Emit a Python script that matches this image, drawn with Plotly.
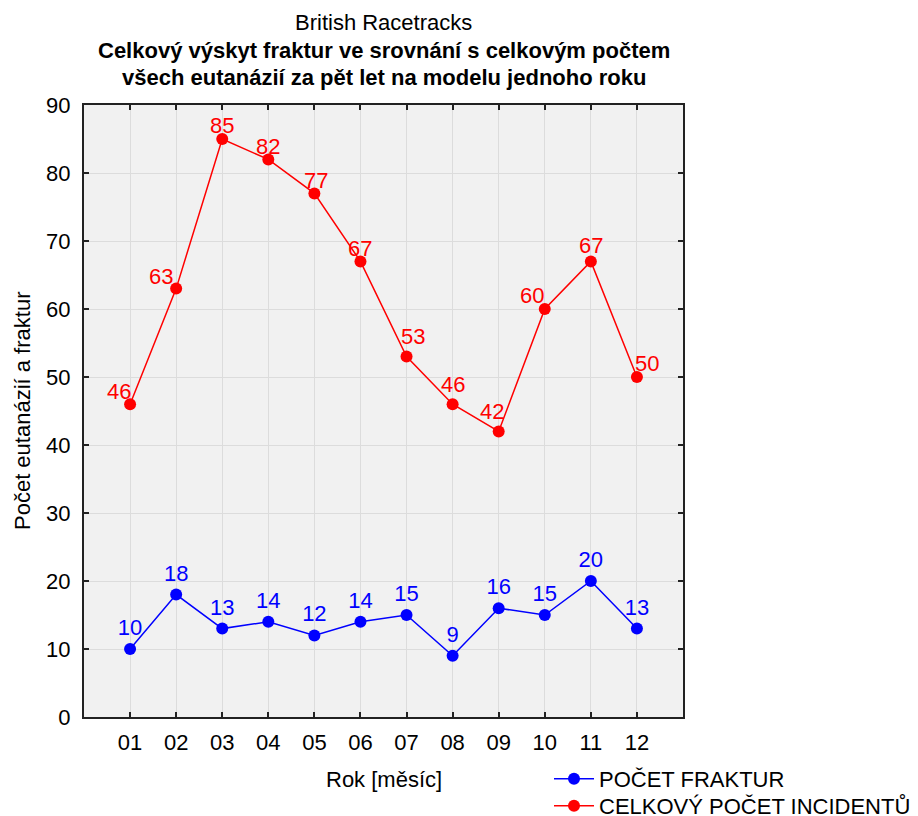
import plotly.graph_objects as go

months = ["01", "02", "03", "04", "05", "06", "07", "08", "09", "10", "11", "12"]
fraktury = [10, 18, 13, 14, 12, 14, 15, 9, 16, 15, 20, 13]
incidenty = [46, 63, 85, 82, 77, 67, 53, 46, 42, 60, 67, 50]
# label offsets (px) for the red series labels
red_dx = [-11, -15, 0, 0, 2, 0, 6, 0, -7, -13, 0, 10]
red_dy = [13, 12, 14, 13, 13, 13, 20, 20, 20, 14, 16, 14]

x_idx = list(range(1, 13))
FONT = "Liberation Sans, Arial, sans-serif"
FS = 22

fig = go.Figure()
fig.add_trace(go.Scatter(
    x=x_idx, y=fraktury, mode="lines+markers+text", name="POČET FRAKTUR",
    line=dict(color="#0000ff", width=1.5), marker=dict(color="#0000ff", size=12),
    text=[str(v) for v in fraktury], textposition="top center",
    textfont=dict(color="#0000ff", size=FS, family=FONT),
    legend="legend", cliponaxis=False))
fig.add_trace(go.Scatter(
    x=x_idx, y=incidenty, mode="lines+markers", name="CELKOVÝ POČET INCIDENTŮ",
    line=dict(color="#ff0000", width=1.5), marker=dict(color="#ff0000", size=12),
    legend="legend2", cliponaxis=False))

for xi, v, dx, dy in zip(x_idx, incidenty, red_dx, red_dy):
    fig.add_annotation(x=xi, y=v, xref="x", yref="y", text=str(v), showarrow=False,
                       xshift=dx, yshift=dy, xanchor="center", yanchor="middle",
                       font=dict(color="#ff0000", size=FS, family=FONT))

leg_common = dict(xref="container", yref="container", xanchor="left", yanchor="top",
                  font=dict(size=FS, color="black"), bgcolor="rgba(0,0,0,0)", itemwidth=40)

fig.update_layout(
    width=918, height=816,
    margin=dict(l=84, r=235, t=105, b=99, autoexpand=False),
    paper_bgcolor="white", plot_bgcolor="#f1f1f1",
    font=dict(family=FONT, size=FS, color="black"),
    showlegend=True,
    legend=dict(x=549 / 918, y=1 - 758 / 816, **leg_common),
    legend2=dict(x=549 / 918, y=1 - 785 / 816, **leg_common),
    xaxis=dict(range=[0, 13], tickmode="array", tickvals=x_idx, ticktext=months,
               showgrid=True, gridcolor="#dcdcdc", gridwidth=1, zeroline=False,
               showline=True, linecolor="#222222", linewidth=2, mirror="ticks",
               ticks="inside", ticklen=5, tickwidth=1.5, tickcolor="#222222",
               tickfont=dict(size=FS), ticklabelstandoff=5, automargin=False),
    yaxis=dict(range=[0, 90], tickmode="array", tickvals=list(range(0, 91, 10)),
               showgrid=True, gridcolor="#dcdcdc", gridwidth=1, zeroline=False,
               showline=True, linecolor="#222222", linewidth=2, mirror="ticks",
               ticks="inside", ticklen=5, tickwidth=1.5, tickcolor="#222222",
               tickfont=dict(size=FS), ticklabelstandoff=7, automargin=False),
)

fig.add_annotation(text="British Racetracks", xref="paper", yref="paper", x=0.5, y=1,
                   yshift=83, showarrow=False, font=dict(size=FS, color="black"), yanchor="middle")
fig.add_annotation(text="<b>Celkový výskyt fraktur ve srovnání s celkovým počtem</b>",
                   xref="paper", yref="paper", x=0.5, y=1, yshift=55, showarrow=False,
                   font=dict(size=FS, color="black"), yanchor="middle")
fig.add_annotation(text="<b>všech eutanázií za pět let na modelu jednoho roku</b>",
                   xref="paper", yref="paper", x=0.5, y=1, yshift=28, showarrow=False,
                   font=dict(size=FS, color="black"), yanchor="middle")
fig.add_annotation(text="Počet eutanázií a fraktur", xref="paper", yref="paper", x=0, y=0.5,
                   xshift=-62, textangle=-90, showarrow=False,
                   font=dict(size=FS, color="black"), xanchor="center", yanchor="middle")
fig.add_annotation(text="Rok [měsíc]", xref="paper", yref="paper", x=0.5, y=0,
                   yshift=-62, showarrow=False,
                   font=dict(size=FS, color="black"), xanchor="center", yanchor="middle")

fig.write_html("out.html", config={"displayModeBar": False},
               post_script="document.body.style.margin='0';document.body.style.overflow='hidden';")
